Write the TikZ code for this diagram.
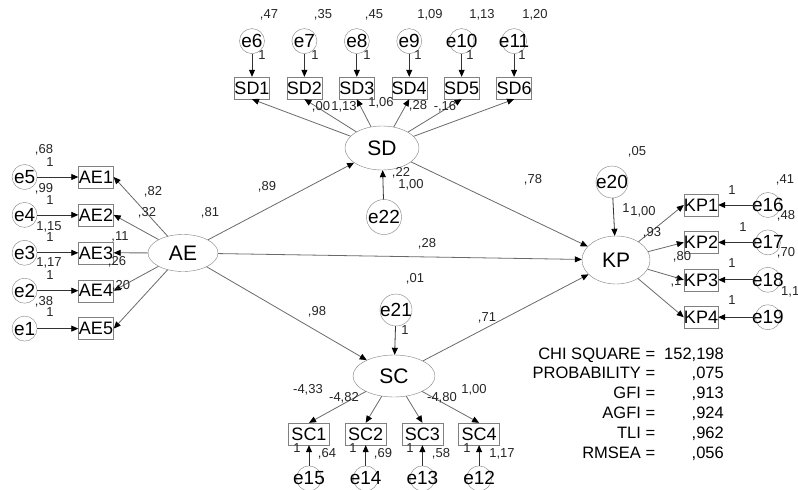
\documentclass[tikz,border=0pt]{standalone}
\usepackage{fontspec}
\setmainfont{Liberation Sans}
\usepackage{tikz}
\usetikzlibrary{arrows.meta,positioning,shapes.geometric}
\definecolor{semline}{HTML}{6A6A6A}
\definecolor{semedge}{HTML}{808080}
\definecolor{semtext}{HTML}{262626}

\begin{document}
\begin{tikzpicture}[x=1pt,y=-1pt,
  obs/.style={draw=semedge,rectangle,minimum width=35pt,minimum height=22pt,inner sep=0pt,font=\fontsize{18}{18}\selectfont},
  lat/.style={draw=semedge,ellipse,inner sep=0pt,font=\fontsize{21}{21}\selectfont},
  err/.style={draw=semedge,circle,minimum size=25pt,inner sep=-5pt,font=\fontsize{19}{19}\selectfont},
  arr/.style={-{Triangle[length=7pt,width=6pt,color=black]},color=semline,line width=0.8pt},
  earr/.style={-{Triangle[length=7pt,width=6pt,color=black]},color=black!80,line width=0.8pt},
  lbl/.style={inner sep=0pt,text=semtext,font=\fontsize{13}{13}\selectfont}]
  \path[use as bounding box,fill=white] (0,0) rectangle (798,490);
  % latent variables
  \node[lat,minimum width=70pt,minimum height=37pt] (ae) at (183,253) {AE};
  \node[lat,minimum width=74pt,minimum height=44pt] (sd) at (382,148) {SD};
  \node[lat,minimum width=68pt,minimum height=48pt] (kp) at (616,260) {KP};
  \node[lat,minimum width=82pt,minimum height=42pt] (sc) at (394,376) {SC};
  \node[err,minimum size=32pt] (e20) at (612,182) {e20};
  \node[err,minimum size=32pt] (e21) at (396,310) {e21};
  \node[err,minimum size=35pt] (e22) at (384,217) {e22};
  % SD indicators
  \node[obs] (sd1) at (252,88) {SD1};
  \node[obs,right=17pt of sd1] (sd2) {SD2};
  \node[obs,right=17pt of sd2] (sd3) {SD3};
  \node[obs,right=17pt of sd3] (sd4) {SD4};
  \node[obs,right=17pt of sd4] (sd5) {SD5};
  \node[obs,right=17pt of sd5] (sd6) {SD6};
  \node[err,above=23pt of sd1] (e6) {e6};
  \node[err,above=23pt of sd2] (e7) {e7};
  \node[err,above=23pt of sd3] (e8) {e8};
  \node[err,above=23pt of sd4] (e9) {e9};
  \node[err,above=23pt of sd5] (e10) {e10};
  \node[err,above=23pt of sd6] (e11) {e11};
  % AE indicators
  \node[obs] (ae1) at (96,177) {AE1};
  \node[obs,below=15.5pt of ae1] (ae2) {AE2};
  \node[obs,below=15.5pt of ae2] (ae3) {AE3};
  \node[obs,below=15.5pt of ae3] (ae4) {AE4};
  \node[obs,below=15.5pt of ae4] (ae5) {AE5};
  \node[err,left=41pt of ae1] (e5) {e5};
  \node[err,left=41pt of ae2] (e4) {e4};
  \node[err,left=41pt of ae3] (e3) {e3};
  \node[err,left=41pt of ae4] (e2) {e2};
  \node[err,left=41pt of ae5] (e1) {e1};
  % KP indicators
  \node[obs,minimum width=34pt] (kp1) at (701,205) {KP1};
  \node[obs,minimum width=34pt,below=15pt of kp1] (kp2) {KP2};
  \node[obs,minimum width=34pt,below=15pt of kp2] (kp3) {KP3};
  \node[obs,minimum width=34pt,below=15pt of kp3] (kp4) {KP4};
  \node[err,right=37pt of kp1] (e16) {e16};
  \node[err,right=37pt of kp2] (e17) {e17};
  \node[err,right=37pt of kp3] (e18) {e18};
  \node[err,right=37pt of kp4] (e19) {e19};
  % SC indicators
  \node[obs,minimum width=41pt] (sc1) at (309,434) {SC1};
  \node[obs,minimum width=41pt,right=15.3pt of sc1] (sc2) {SC2};
  \node[obs,minimum width=41pt,right=15.3pt of sc2] (sc3) {SC3};
  \node[obs,minimum width=41pt,right=15.3pt of sc3] (sc4) {SC4};
  \node[err,below=20.5pt of sc1] (e15) {e15};
  \node[err,below=20.5pt of sc2] (e14) {e14};
  \node[err,below=20.5pt of sc3] (e13) {e13};
  \node[err,below=20.5pt of sc4] (e12) {e12};
  % connectors
  \draw[earr] (e6) -- (sd1);
  \draw[earr] (e7) -- (sd2);
  \draw[earr] (e8) -- (sd3);
  \draw[earr] (e9) -- (sd4);
  \draw[earr] (e10) -- (sd5);
  \draw[earr] (e11) -- (sd6);
  \draw[arr] (sd) -- (sd1.south);
  \draw[arr] (sd) -- (sd2.south);
  \draw[arr] (sd) -- (sd3.south);
  \draw[arr] (sd) -- (sd4.south);
  \draw[arr] (sd) -- (sd5.south);
  \draw[arr] (sd) -- (sd6.south);
  \draw[earr] (e5) -- (ae1);
  \draw[earr] (e4) -- (ae2);
  \draw[earr] (e3) -- (ae3);
  \draw[earr] (e2) -- (ae4);
  \draw[earr] (e1) -- (ae5);
  \draw[arr] (ae) -- (ae1.east);
  \draw[arr] (ae) -- (ae2.east);
  \draw[arr] (ae) -- (ae3.east);
  \draw[arr] (ae) -- (ae4.east);
  \draw[arr] (ae) -- (ae5.east);
  \draw[arr] (kp) -- (kp1.west);
  \draw[arr] (kp) -- (kp2.west);
  \draw[arr] (kp) -- (kp3.west);
  \draw[arr] (kp) -- (kp4.west);
  \draw[earr] (e16) -- (kp1);
  \draw[earr] (e17) -- (kp2);
  \draw[earr] (e18) -- (kp3);
  \draw[earr] (e19) -- (kp4);
  \draw[arr] (sc) -- (sc1.north);
  \draw[arr] (sc) -- (sc2.north);
  \draw[arr] (sc) -- (sc3.north);
  \draw[arr] (sc) -- (sc4.north);
  \draw[earr] (e15) -- (sc1);
  \draw[earr] (e14) -- (sc2);
  \draw[earr] (e13) -- (sc3);
  \draw[earr] (e12) -- (sc4);
  \draw[arr] (ae) -- (sd);
  \draw[arr] (ae) -- (kp);
  \draw[arr] (ae) -- (sc);
  \draw[arr] (sd) -- (kp);
  \draw[arr] (sc) -- (kp);
  \draw[earr] (e20) -- (kp);
  \draw[earr] (e21) -- (sc);
  \draw[earr] (e22) -- (sd);
  % estimates
  \node[lbl] (v6) at (269,15) {,47};
  \node[lbl] (v7) at (323,15) {,35};
  \node[lbl] (v8) at (374,15) {,45};
  \node[lbl] (v9) at (430,15) {1,09};
  \node[lbl] (v10) at (482,15) {1,13};
  \node[lbl] (v11) at (535,15) {1,20};
  \node[lbl] (r6) at (262,55) {1};
  \node[lbl] (r7) at (315,55) {1};
  \node[lbl] (r8) at (367,55) {1};
  \node[lbl] (r9) at (418,55) {1};
  \node[lbl] (r10) at (470,55) {1};
  \node[lbl] (r11) at (522,55) {1};
  \node[lbl] (w1) at (321,107) {,00};
  \node[lbl] (w2) at (344,107) {1,13};
  \node[lbl] (w3) at (381,103) {1,06};
  \node[lbl] (w4) at (418,106) {,28};
  \node[lbl] (w5) at (445,107) {-,16};
  \node[lbl] (v22) at (401,173) {,22};
  \node[lbl] (r22) at (411,185) {1,00};
  \node[lbl] (vae) at (210,213) {,81};
  \node[lbl] (b1) at (267,187) {,89};
  \node[lbl] (b2) at (427,244) {,28};
  \node[lbl] (b3) at (317,312) {,98};
  \node[lbl] (b4) at (533,180) {,78};
  \node[lbl] (b5) at (487,318) {,71};
  \node[lbl] (v21) at (415,279) {,01};
  \node[lbl] (r21) at (405,330) {1};
  \node[lbl] (v20) at (637,152) {,05};
  \node[lbl] (r20) at (626,208) {1};
  \node[lbl] (g20) at (643,212) {1,00};
  \node[lbl] (k2) at (652,233) {,93};
  \node[lbl] (k3) at (682,257) {,80};
  \node[lbl] (k4) at (676,282) {,1};
  \node[lbl] (r16) at (732,190) {1};
  \node[lbl] (r17) at (743,227) {1};
  \node[lbl] (r18) at (732,263) {1};
  \node[lbl] (r19) at (732,300) {1};
  \node[lbl] (v16) at (785,180) {,41};
  \node[lbl] (v17) at (786,216) {,48};
  \node[lbl] (v18) at (786,253) {,70};
  \node[lbl,anchor=west] (v19) at (781,292) {1,1};
  \node[lbl] (v5) at (44,150) {,68};
  \node[lbl] (r5) at (50,162) {1};
  \node[lbl] (v4) at (44,189) {,99};
  \node[lbl] (r4) at (50,200) {1};
  \node[lbl] (v3) at (49,227) {1,15};
  \node[lbl] (r3) at (50,237) {1};
  \node[lbl] (v2) at (49,263) {1,17};
  \node[lbl] (r2) at (50,275) {1};
  \node[lbl] (v1) at (44,302) {,38};
  \node[lbl] (r1) at (50,312) {1};
  \node[lbl] (a1) at (153,192) {,82};
  \node[lbl] (a2) at (147,213) {,32};
  \node[lbl] (a3) at (120,237) {,11};
  \node[lbl] (a4) at (117,262) {,26};
  \node[lbl] (a5) at (121,286) {,20};
  \node[lbl] (s1) at (308,390) {-4,33};
  \node[lbl] (s2) at (344,398) {-4,82};
  \node[lbl] (s3) at (442,398) {-4,80};
  \node[lbl] (s4) at (474,390) {1,00};
  \node[lbl] (r15) at (297,448) {1};
  \node[lbl] (r14) at (353,448) {1};
  \node[lbl] (r13) at (410,448) {1};
  \node[lbl] (r12) at (467,448) {1};
  \node[lbl] (v15) at (327,454) {,64};
  \node[lbl] (v14) at (383,454) {,69};
  \node[lbl] (v13) at (441,454) {,58};
  \node[lbl] (v12) at (502,454) {1,17};
  % fit indices
  \node[anchor=north east,inner sep=0pt,font=\fontsize{16.5}{19.8}\selectfont] (fit) at (724,345) {%
    \begin{tabular}{@{}r@{\hspace{9pt}}r@{}}
    CHI SQUARE = & 152,198\\
    PROBABILITY = & ,075\\
    GFI = & ,913\\
    AGFI = & ,924\\
    TLI = & ,962\\
    RMSEA = & ,056
    \end{tabular}};
\end{tikzpicture}
\end{document}
